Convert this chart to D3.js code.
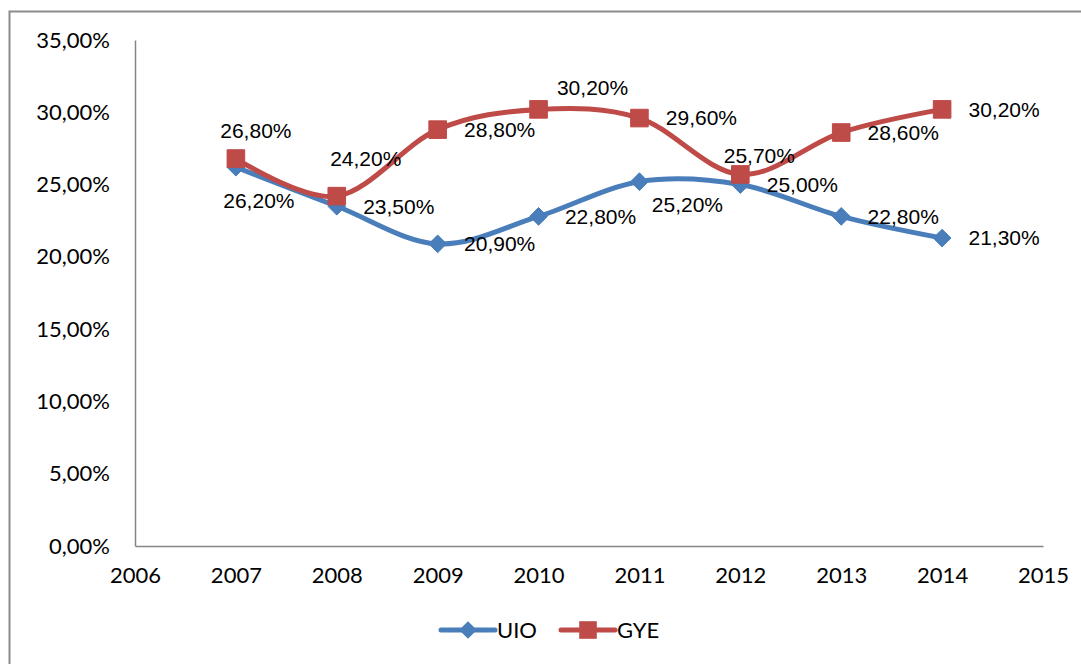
<!DOCTYPE html>
<html>
<head>
<meta charset="utf-8">
<script src="https://cdn.jsdelivr.net/npm/d3@7"></script>
<style>
  body { margin: 0; background: #fff; }
  svg { display: block; }
</style>
</head>
<body>
<svg id="chart" width="1081" height="664"></svg>
<script>
// data
var years = [2007, 2008, 2009, 2010, 2011, 2012, 2013, 2014]
var uio = [26.2, 23.5, 20.9, 22.8, 25.2, 25.0, 22.8, 21.3]
var gye = [26.8, 24.2, 28.8, 30.2, 29.6, 25.7, 28.6, 30.2]
var xTicks = [2006, 2007, 2008, 2009, 2010, 2011, 2012, 2013, 2014, 2015]
var yTicks = [0, 5, 10, 15, 20, 25, 30, 35]

// where each data label sits relative to its point
var uioLabelPos = ['below', 'right', 'right', 'right', 'belowRight', 'right', 'right', 'right']
var gyeLabelPos = ['above', 'aboveRight', 'right', 'aboveRight2', 'right', 'aboveSmall', 'right', 'right']

var svg = d3.select('#chart')
var margin = {top: 40, right: 38, bottom: 118, left: 135}
var width = 1081 - margin.left - margin.right
var height = 664 - margin.top - margin.bottom

// outer chart frame
svg.append('rect')
  .attr('x', 9.5).attr('y', 11.5)
  .attr('width', 1100).attr('height', 700)
  .attr('fill', 'none')
  .attr('stroke', '#8c8c8c')
  .attr('stroke-width', 2)

var g = svg.append('g')
  .attr('transform', 'translate(' + margin.left + ',' + margin.top + ')')

var x = d3.scaleLinear().domain([2006, 2015]).range([0, width])
var y = d3.scaleLinear().domain([0, 35]).range([height, 0])

var fmtPct = function (v) { return d3.format('.2f')(v).replace('.', ',') + '%' }

// axes
var xAxis = g.append('g')
  .attr('transform', 'translate(0,' + height + ')')
  .call(d3.axisBottom(x).tickValues(xTicks).tickFormat(d3.format('d')).tickSize(0).tickPadding(21))
var yAxis = g.append('g')
  .call(d3.axisLeft(y).tickValues(yTicks).tickFormat(fmtPct).tickSize(0).tickPadding(25))

;[xAxis, yAxis].forEach(function (a) {
  a.select('.domain').attr('stroke', '#868686').attr('stroke-width', 1.5)
  a.selectAll('text')
    .attr('fill', '#000')
    .style('font-family', 'Lato, "Open Sans", sans-serif')
    .style('font-size', '22px')
})

var line = d3.line()
  .x(function (d, i) { return x(years[i]) })
  .y(function (d) { return y(d) })
  .curve(d3.curveCatmullRom.alpha(0))

var series = [
  {name: 'UIO', values: uio, color: '#4A7EBB', marker: 'diamond', pos: uioLabelPos},
  {name: 'GYE', values: gye, color: '#BE4B48', marker: 'square', pos: gyeLabelPos}
]

var symbolFor = function (m) {
  return m === 'diamond'
    ? d3.symbol().type(d3.symbolDiamond2).size(200)
    : d3.symbol().type(d3.symbolSquare).size(310)
}

series.forEach(function (s) {
  g.append('path').datum(s.values)
    .attr('fill', 'none')
    .attr('stroke', s.color)
    .attr('stroke-width', 5)
    .attr('stroke-linejoin', 'round')
    .attr('stroke-linecap', 'round')
    .attr('d', line)

  g.selectAll('.m-' + s.name).data(s.values).enter()
    .append('path')
    .attr('class', 'm-' + s.name)
    .attr('transform', function (d, i) { return 'translate(' + x(years[i]) + ',' + y(d) + ')' })
    .attr('d', symbolFor(s.marker))
    .attr('fill', s.color)
    .attr('stroke', s.color)
    .attr('stroke-width', 1)
})

// label offsets (center of text relative to point)
var offsets = {
  right: [62, 0],
  below: [23, 33],
  belowRight: [48, 23],
  above: [20, -28],
  aboveRight: [29, -37],
  aboveRight2: [54, -22],
  aboveSmall: [19, -19]
}

series.forEach(function (s) {
  g.selectAll('.l-' + s.name).data(s.values).enter()
    .append('text')
    .attr('class', 'l-' + s.name)
    .attr('x', function (d, i) { return x(years[i]) + offsets[s.pos[i]][0] })
    .attr('y', function (d, i) { return y(d) + offsets[s.pos[i]][1] })
    .attr('text-anchor', 'middle')
    .attr('dy', '0.35em')
    .style('font-family', '"Liberation Sans", Arial, sans-serif')
    .style('font-size', '21px')
    .attr('fill', '#000')
    .text(fmtPct)
})

// legend
var legend = svg.append('g').attr('transform', 'translate(441,630)')
series.forEach(function (s, i) {
  var lg = legend.append('g').attr('transform', 'translate(' + (i * 120) + ',0)')
  lg.append('line')
    .attr('x1', 0).attr('x2', 54)
    .attr('stroke', s.color).attr('stroke-width', 5).attr('stroke-linecap', 'round')
  lg.append('path')
    .attr('transform', 'translate(27,0)')
    .attr('d', symbolFor(s.marker))
    .attr('fill', s.color)
  lg.append('text')
    .attr('x', 56).attr('dy', '0.35em')
    .style('font-family', 'Lato, "Open Sans", sans-serif')
    .style('font-size', '22px')
    .text(s.name)
})
</script>
</body>
</html>
